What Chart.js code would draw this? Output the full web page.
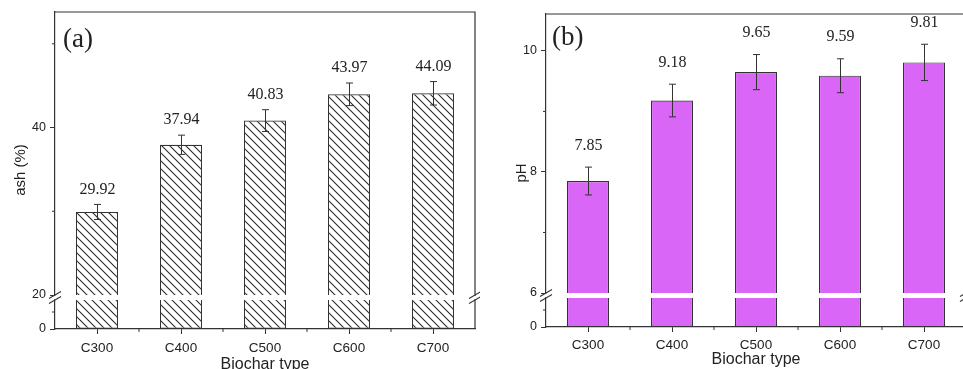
<!DOCTYPE html>
<html><head><meta charset="utf-8">
<script src="https://cdn.jsdelivr.net/npm/chart.js@4.4.1/dist/chart.umd.min.js"></script>
<style>
html,body{margin:0;padding:0;background:#fff;overflow:hidden;width:963px;height:369px;}
#wrap{position:relative;width:963px;height:369px;overflow:hidden;background:#fff;}
#ca{position:absolute;left:0;top:0;}
#cb{position:absolute;left:480px;top:0;}
</style></head><body>
<div id="wrap"><canvas id="ca" width="480" height="380"></canvas><canvas id="cb" width="500" height="380"></canvas></div>
<script>
// ---- data ----
const categories = ['C300', 'C400', 'C500', 'C600', 'C700'];
const ashValues = [29.92, 37.94, 40.83, 43.97, 44.09];
const ashErrors = [0.9, 1.15, 1.3, 1.35, 1.4];
const phValues = [7.85, 9.18, 9.65, 9.59, 9.81];
const phErrors = [0.23, 0.27, 0.29, 0.28, 0.30];

// ---- axes (broken y axes: lower segment + upper segment) ----
const ashLowerRange = [0, 20];
const ashBreakStart = 17;
const ashUpperRange = [20, 53.8];
const ashUpperMajor = [20, 40];
const ashUpperMinor = [30, 50];
const ashLowerMajor = [0];
const ashLowerMinor = [10];

const phLowerRange = [0, 6];
const phBreakStart = 5.12;
const phUpperRange = [6, 10.61];
const phUpperMajor = [6, 8, 10];
const phUpperMinor = [7, 9];
const phLowerMajor = [0];
const phLowerMinor = [3];

Chart.defaults.font.family = '"Liberation Sans", Arial, sans-serif';
Chart.defaults.color = '#222';

const AX = '#333';

function hatchPattern(ctx) {
  const c = document.createElement('canvas');
  c.width = 8; c.height = 8;
  const g = c.getContext('2d');
  g.fillStyle = '#fff'; g.fillRect(0, 0, 8, 8);
  g.strokeStyle = '#2a2a2a'; g.lineWidth = 1.1;
  for (const o of [-8, 0, 8]) {
    g.beginPath(); g.moveTo(o - 1, -1); g.lineTo(o + 9, 9); g.stroke();
  }
  return ctx.createPattern(c, 'repeat');
}

function makeChart(id, cfg) {
  const ctx = document.getElementById(id).getContext('2d');
  const fill = cfg.fill === 'hatch' ? hatchPattern(ctx) : cfg.fill;
  const common = {
    backgroundColor: fill, borderColor: AX, borderWidth: 1.1,
    grouped: false, categoryPercentage: 1, barPercentage: 0.5
  };
  const decor = {
    id: 'decor_' + id,
    afterDatasetsDraw(chart) {
      const c = chart.ctx, x = chart.scales.x, y = chart.scales.yUp;
      c.save();
      c.strokeStyle = AX; c.lineWidth = 1;
      cfg.values.forEach((v, i) => {
        const px = Math.round(x.getPixelForValue(i)) + 0.5;
        const t = y.getPixelForValue(v + cfg.errors[i]);
        const b = y.getPixelForValue(v - cfg.errors[i]);
        c.beginPath();
        c.moveTo(px, t); c.lineTo(px, b);
        c.moveTo(px - 3.5, t); c.lineTo(px + 3.5, t);
        c.moveTo(px - 3.5, b); c.lineTo(px + 3.5, b);
        c.stroke();
        c.fillStyle = '#222';
        c.font = '16px "Liberation Serif", "Times New Roman", serif';
        c.textAlign = 'center'; c.textBaseline = 'middle';
        c.fillText(v.toFixed(2), px, t - cfg.labelOffset);
      });
      c.restore();
    },
    afterDraw(chart) {
      const c = chart.ctx, a = chart.chartArea;
      const yU = chart.scales.yUp, yL = chart.scales.yLow, x = chart.scales.x;
      c.save();
      c.strokeStyle = AX; c.lineWidth = 1.2;
      // top and right frame
      c.beginPath();
      c.moveTo(a.left, a.top); c.lineTo(a.right, a.top); c.lineTo(a.right, a.bottom);
      c.stroke();
      // minor ticks
      c.lineWidth = 1;
      c.beginPath();
      cfg.upperMinor.forEach(v => { const p = yU.getPixelForValue(v); c.moveTo(a.left - 3, p); c.lineTo(a.left, p); });
      cfg.lowerMinor.forEach(v => { const p = yL.getPixelForValue(v); c.moveTo(a.left - 3, p); c.lineTo(a.left, p); });
      for (let i = 1; i < categories.length; i++) {
        const bx = (x.getPixelForValue(i - 1) + x.getPixelForValue(i)) / 2;
        c.moveTo(bx, a.bottom); c.lineTo(bx, a.bottom + 3);
      }
      c.stroke();
      // axis break marks
      const gTop = yU.getPixelForValue(cfg.upperRange[0]);
      const gBot = yL.getPixelForValue(cfg.breakStart);
      c.fillStyle = '#fff';
      for (const ax of [a.left, a.right]) {
        c.fillRect(ax - 2, gTop + 0.8, 4, gBot - gTop - 1.6);
        c.beginPath();
        for (const yy of [gTop, gBot]) { c.moveTo(ax - 6, yy + 3.5); c.lineTo(ax + 6, yy - 3.5); }
        c.lineWidth = 1.1; c.stroke();
      }
      // panel letter
      c.fillStyle = '#222';
      c.font = '27px "Liberation Serif", "Times New Roman", serif';
      c.textAlign = 'left'; c.textBaseline = 'middle';
      c.fillText(cfg.letter, cfg.letterX, cfg.letterY);
      // y title
      c.save();
      c.translate(cfg.yTitleX, cfg.yTitleY);
      c.rotate(-Math.PI / 2);
      c.font = '15px "Liberation Sans", Arial, sans-serif';
      c.textAlign = 'center'; c.textBaseline = 'middle';
      c.fillText(cfg.yTitle, 0, 0);
      c.restore();
      c.restore();
    }
  };
  const yCommon = {
    type: 'linear', position: 'left', stack: 'v',
    grid: { drawOnChartArea: false, tickLength: 5, tickColor: AX, tickWidth: 1 },
    border: { color: AX, width: 1.2 },
    ticks: { font: { size: 12.5 }, color: '#222', padding: 4, includeBounds: false },
    afterFit: s => { s.width = cfg.yWidth; }
  };
  return new Chart(ctx, {
    type: 'bar',
    data: {
      labels: categories,
      datasets: [
        Object.assign({ data: cfg.values.map(v => Math.min(v, cfg.breakStart)), yAxisID: 'yLow', borderSkipped: 'top' }, common),
        Object.assign({ data: cfg.values.map(v => [cfg.upperRange[0], v]), yAxisID: 'yUp', borderSkipped: 'start' }, common)
      ]
    },
    options: {
      responsive: false, animation: false, devicePixelRatio: 1,
      layout: { padding: { left: 0, top: cfg.top, right: cfg.padRight, bottom: 0 } },
      plugins: { legend: { display: false }, tooltip: { enabled: false } },
      scales: {
        x: {
          type: 'category', offset: true,
          grid: { display: true, drawOnChartArea: false, offset: false, tickLength: 5, tickColor: AX, tickWidth: 1 },
          border: { color: AX, width: 1.2 },
          ticks: { font: { size: 13.5 }, color: '#222', padding: cfg.xTickPad, maxRotation: 0 },
          title: { display: true, text: 'Biochar type', font: { size: 16 }, color: '#222', padding: { top: 0, bottom: cfg.xTitlePad } },
          afterFit: s => { s.height = cfg.xHeight; }
        },
        yUp: Object.assign({}, yCommon, {
          weight: 1, stackWeight: cfg.upperWeight,
          min: cfg.upperRange[0], max: cfg.upperRange[1],
          afterBuildTicks: s => { s.ticks = cfg.upperMajor.map(v => ({ value: v })); }
        }),
        yLow: Object.assign({}, yCommon, {
          weight: 0, stackWeight: cfg.lowerWeight,
          min: cfg.lowerRange[0], max: cfg.lowerRange[1],
          afterBuildTicks: s => { s.ticks = cfg.lowerMajor.map(v => ({ value: v })); }
        })
      }
    },
    plugins: [decor]
  });
}

makeChart('ca', {
  values: ashValues, errors: ashErrors, fill: 'hatch',
  lowerRange: ashLowerRange, breakStart: ashBreakStart, upperRange: ashUpperRange,
  upperMajor: ashUpperMajor, upperMinor: ashUpperMinor, lowerMajor: ashLowerMajor, lowerMinor: ashLowerMinor,
  upperWeight: 283, lowerWeight: 34,
  top: 12, padRight: 5, yWidth: 55, xHeight: 51, xTitlePad: 6.2, xTickPad: 6.5,
  labelOffset: 15, letter: '(a)', letterX: 63, letterY: 40,
  yTitle: 'ash (%)', yTitleX: 21, yTitleY: 170
});

makeChart('cb', {
  values: phValues, errors: phErrors, fill: '#d966f6',
  lowerRange: phLowerRange, breakStart: phBreakStart, upperRange: phUpperRange,
  upperMajor: phUpperMajor, upperMinor: phUpperMinor, lowerMajor: phLowerMajor, lowerMinor: phLowerMinor,
  upperWeight: 279, lowerWeight: 34,
  top: 14, padRight: 14, yWidth: 66, xHeight: 53, xTitlePad: 10.4, xTickPad: 5.5,
  labelOffset: 21.5, letter: '(b)', letterX: 72, letterY: 37.5,
  yTitle: 'pH', yTitleX: 42, yTitleY: 173
});
</script>
</body></html>
